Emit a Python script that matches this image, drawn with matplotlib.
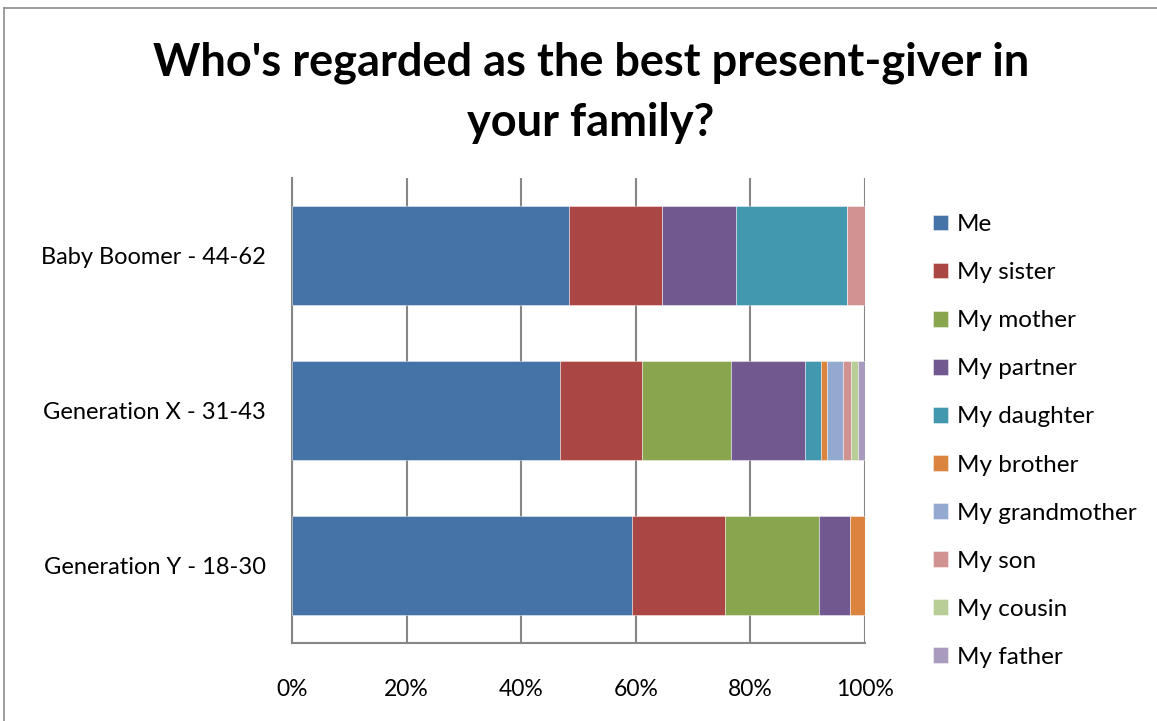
import matplotlib
matplotlib.use("Agg")
import matplotlib.pyplot as plt
from matplotlib.lines import Line2D
import numpy as np

plt.rcParams['font.family'] = ['Lato', 'DejaVu Sans']

categories = ["Baby Boomer - 44-62", "Generation X - 31-43", "Generation Y - 18-30"]
series = ["Me", "My sister", "My mother", "My partner", "My daughter",
          "My brother", "My grandmother", "My son", "My cousin", "My father"]

# share of respondents (%) per generation
me          = [48.4, 46.8, 59.4]
sister      = [16.1, 14.2, 16.2]
mother      = [0.0, 15.7, 16.3]
partner     = [12.9, 12.9, 5.4]
daughter    = [19.4, 2.7, 0.0]
brother     = [0.0, 1.1, 2.7]
grandmother = [0.0, 2.8, 0.0]
son         = [3.2, 1.3, 0.0]
cousin      = [0.0, 1.2, 0.0]
father      = [0.0, 1.3, 0.0]

values = [me, sister, mother, partner, daughter, brother,
          grandmother, son, cousin, father]
colors = ["#4572A7", "#AA4643", "#89A54E", "#71588F", "#4198AF",
          "#DB843D", "#93A9CF", "#D19392", "#B9CD96", "#A99BBD"]

fig = plt.figure(figsize=(11.57, 7.21), dpi=100)
ax = fig.add_axes([292/1157, 1 - 643/721, (865 - 292)/1157, (643 - 178)/721])

y = np.arange(len(categories))
left = np.zeros(len(categories))
for name, vals, col in zip(series, values, colors):
    vals = np.array(vals)
    ax.barh(y, vals, left=left, height=0.645, color=col, label=name,
            edgecolor=(1, 1, 1, 0.5), linewidth=0.6, zorder=3)
    left += vals

ax.set_xlim(0, 100)
ax.set_ylim(len(categories) - 0.5, -0.5)
ax.set_yticks(y)
ax.set_yticklabels(categories, fontsize=17)
ax.set_xticks(np.arange(0, 101, 20))
ax.set_xticklabels([f"{v}%" for v in range(0, 101, 20)], fontsize=16.5)
ax.tick_params(axis='y', length=0, pad=19)
ax.tick_params(axis='x', length=0, pad=26)

grid_col = "#868686"
ax.grid(axis='x', color=grid_col, linewidth=1.5, zorder=0)
for side in ['top', 'right']:
    ax.spines[side].set_visible(False)
for side in ['left', 'bottom']:
    ax.spines[side].set_color(grid_col)
    ax.spines[side].set_linewidth(1.5)

fig.suptitle("Who's regarded as the best present-giver in\nyour family?",
             x=591/1157, y=1 - 41/721, fontsize=32.5, fontweight='bold',
             linespacing=1.55, va='top')

leg = ax.legend(loc='upper left', bbox_to_anchor=(933/1157, 1 - 214/721),
                bbox_transform=fig.transFigure, frameon=False, fontsize=17.5,
                handlelength=0.62, handleheight=0.62, handletextpad=0.35,
                labelspacing=1.115, borderaxespad=0, borderpad=0)

# outer chart border
fig.add_artist(Line2D([4/1157, 4/1157], [0, 1 - 8/721], transform=fig.transFigure,
                      color="#8c8c8c", linewidth=1.2))
fig.add_artist(Line2D([4/1157, 1], [1 - 8/721, 1 - 8/721], transform=fig.transFigure,
                      color="#8c8c8c", linewidth=1.2))

fig.savefig("out.png", dpi=100)
